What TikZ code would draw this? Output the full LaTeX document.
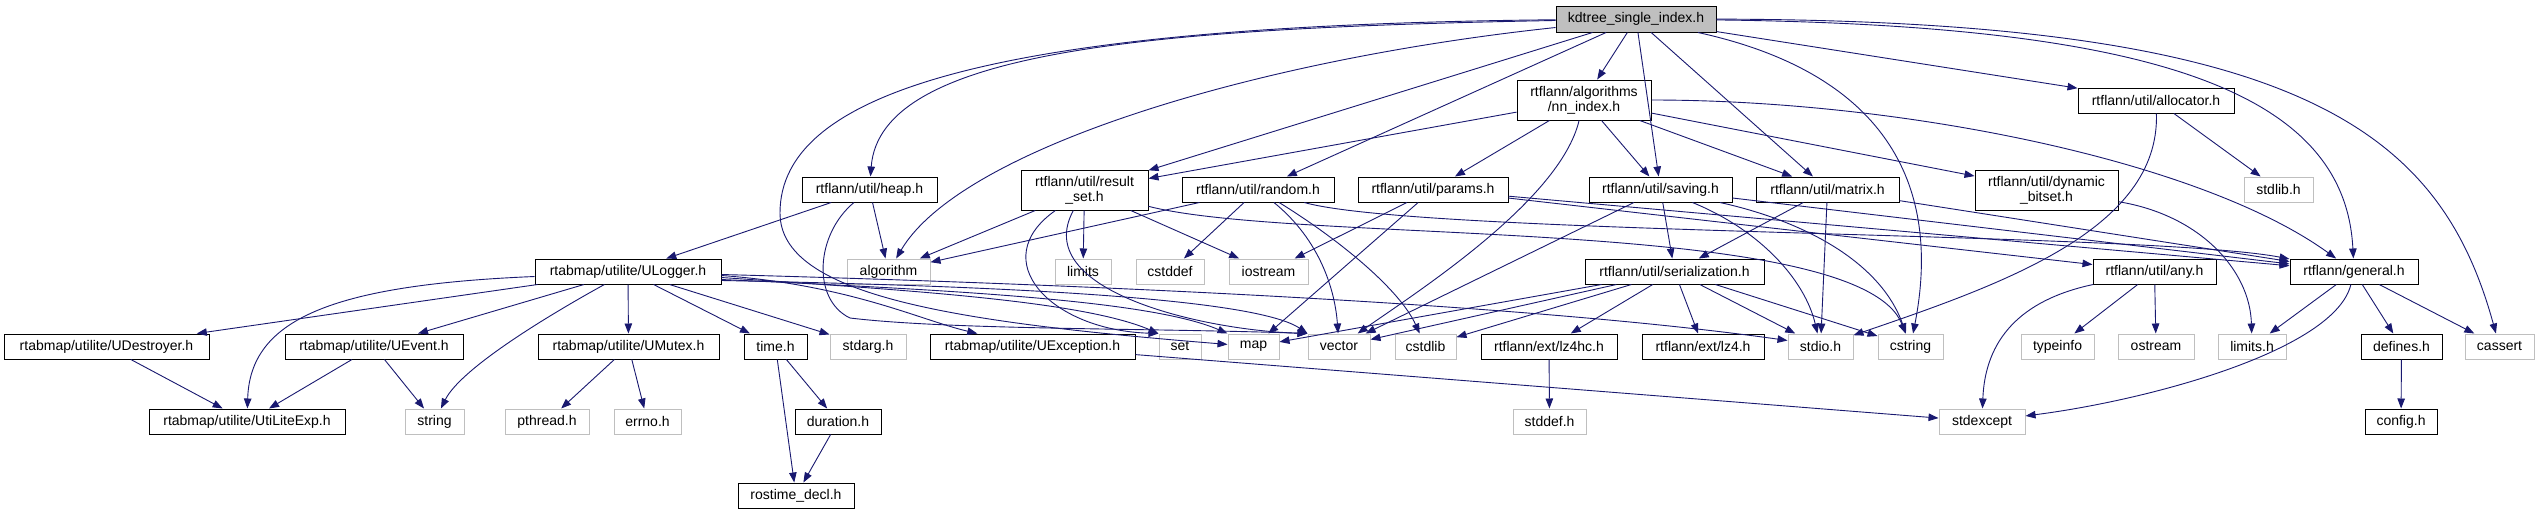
\documentclass[tikz,border=0pt]{standalone}
\usepackage{fontspec}
\setmainfont{Liberation Sans}
\usetikzlibrary{arrows.meta}
\definecolor{edgeblue}{HTML}{191970}
\definecolor{sysgray}{HTML}{BFBFBF}
\begin{document}
\begin{tikzpicture}[x=1pt,y=-1pt,
  box/.style={rectangle, line width=1pt, minimum height=25pt, inner sep=0pt, align=center, font=\fontsize{14}{15}\selectfont, fill=white},
  doc/.style={box, draw=black},
  sys/.style={box, draw=sysgray},
  mainbox/.style={box, draw=black, fill=sysgray},
  tall/.style={minimum height=40pt},
  wd/.style={minimum width=#1pt},
  edge/.style={draw=edgeblue, line width=0.9pt, -{Triangle[length=10pt,width=7.5pt]}}
]
\fill[white] (0,0) rectangle (2539,515);
\useasboundingbox (0,0) rectangle (2539,515);

% row A
\node[mainbox,wd=160,minimum height=26pt] (kd) at (1636,19) {kdtree\_single\_index.h};
% row B
\node[doc,wd=134,tall] (nn) at (1584,100) {rtflann/algorithms\\/nn\_index.h};
\node[doc,wd=156] (alloc) at (2156,100.5) {rtflann/util/allocator.h};
% row C
\node[doc,wd=135] (heap) at (869.5,189.5) {rtflann/util/heap.h};
\node[doc,wd=127,tall] (rs) at (1084.5,190) {rtflann/util/result\\\_set.h};
\node[doc,wd=152] (rand) at (1258,189.5) {rtflann/util/random.h};
\node[doc,wd=150] (par) at (1433,189.5) {rtflann/util/params.h};
\node[doc,wd=143] (sav) at (1660.5,189.5) {rtflann/util/saving.h};
\node[doc,wd=143] (mat) at (1827.5,189.5) {rtflann/util/matrix.h};
\node[doc,wd=143,tall] (db) at (2046.5,190) {rtflann/util/dynamic\\\_bitset.h};
\node[sys,wd=69] (stdlib) at (2278.5,189.5) {stdlib.h};
% row D
\node[doc,wd=186] (ulog) at (628,271.5) {rtabmap/utilite/ULogger.h};
\node[sys,wd=83] (algo) at (888.5,271.5) {algorithm};
\node[sys,wd=56] (limits) at (1083,271.5) {limits};
\node[sys,wd=68] (cstddef) at (1170,271.5) {cstddef};
\node[sys,wd=79] (iostr) at (1268.5,271.5) {iostream};
\node[doc,wd=179] (ser) at (1674.5,271.5) {rtflann/util/serialization.h};
\node[doc,wd=123] (any) at (2154.5,271.5) {rtflann/util/any.h};
\node[doc,wd=128] (gen) at (2354,271.5) {rtflann/general.h};
% row E
\node[doc,wd=205] (udes) at (106.5,346.5) {rtabmap/utilite/UDestroyer.h};
\node[doc,wd=178] (uev) at (374,346.5) {rtabmap/utilite/UEvent.h};
\node[doc,wd=181] (umut) at (628.5,346.5) {rtabmap/utilite/UMutex.h};
\node[doc,wd=63] (timeh) at (775.5,346.5) {time.h};
\node[sys,wd=76] (stdarg) at (868,346.5) {stdarg.h};
\node[doc,wd=205] (uexc) at (1032.5,346.5) {rtabmap/utilite/UException.h};
\node[sys,wd=42] (set) at (1180,346.5) {set};
\node[sys,wd=51] (map) at (1253.5,346.5) {map};
\node[sys,wd=62] (vec) at (1339,346.5) {vector};
\node[sys,wd=61] (cstdlib) at (1425.5,346.5) {cstdlib};
\node[doc,wd=136] (lzhc) at (1549,346.5) {rtflann/ext/lz4hc.h};
\node[doc,wd=122] (lz) at (1703,346.5) {rtflann/ext/lz4.h};
\node[sys,wd=65] (stdio) at (1820.5,346.5) {stdio.h};
\node[sys,wd=65] (cstr) at (1910.5,346.5) {cstring};
\node[sys,wd=73] (typeinfo) at (2057.5,346.5) {typeinfo};
\node[sys,wd=76] (ostr) at (2156,346.5) {ostream};
\node[sys,wd=68] (limh) at (2252,346.5) {limits.h};
\node[doc,wd=81] (defs) at (2401.5,346.5) {defines.h};
\node[sys,wd=69] (cass) at (2499.5,346.5) {cassert};
% row F
\node[doc,wd=196] (utex) at (247,421.5) {rtabmap/utilite/UtiLiteExp.h};
\node[sys,wd=59] (str) at (434.5,421.5) {string};
\node[sys,wd=84] (pthr) at (547,421.5) {pthread.h};
\node[sys,wd=67] (errn) at (647.5,421.5) {errno.h};
\node[doc,wd=86] (dur) at (838,421.5) {duration.h};
\node[sys,wd=73] (stddef) at (1549.5,421.5) {stddef.h};
\node[sys,wd=86] (stdexc) at (1982,421.5) {stdexcept};
\node[doc,wd=72] (conf) at (2401,421.5) {config.h};
% row G
\node[doc,wd=116] (ros) at (796,495.5) {rostime\_decl.h};

% kdtree edges
\draw[edge] (kd) .. controls (1000,25) and (780,90) .. (780,213) .. controls (780,295) and (950,322) .. (map);
\draw[edge] (kd) .. controls (1150,28) and (880,50) .. (heap);
\draw[edge] (kd) .. controls (1250,60) and (960,150) .. (algo);
\draw[edge] (kd) -- (rs);
\draw[edge] (kd) -- (rand);
\draw[edge] (kd) -- (nn);
\draw[edge] (kd) -- (sav);
\draw[edge] (kd) -- (mat);
\draw[edge] (kd) .. controls (1870,70) and (1945,170) .. (cstr);
\draw[edge] (kd) -- (alloc);
\draw[edge] (kd) .. controls (2150,25) and (2345,90) .. (gen);
\draw[edge] (kd) .. controls (2300,20) and (2440,130) .. (cass);
% nn_index edges
\draw[edge] (nn) -- (rs);
\draw[edge] (nn) -- (par);
\draw[edge] (nn) .. controls (1560,200) and (1420,290) .. (vec);
\draw[edge] (nn) -- (sav);
\draw[edge] (nn) -- (mat);
\draw[edge] (nn) -- (db);
\draw[edge] (nn) .. controls (1900,100) and (2200,160) .. (gen);
% allocator
\draw[edge] (alloc) -- (stdlib);
\draw[edge] (alloc) .. controls (2160,230) and (2000,285) .. (stdio);
% heap
\draw[edge] (heap) -- (ulog);
\draw[edge] (heap) -- (algo);
\draw[edge] (heap) .. controls (815,235) and (812,300) .. (850,318) .. controls (950,330) and (1150,328) .. (vec.north west);
% result_set
\draw[edge] (rs) -- (algo);
\draw[edge] (rs) -- (limits);
\draw[edge] (rs) -- (iostr);
\draw[edge] (rs) .. controls (985,260) and (1050,330) .. (set.north west);
\draw[edge] (rs) .. controls (1030,290) and (1200,330) .. (vec.north west);
\draw[edge] (rs) .. controls (1300,245) and (1860,215) .. (cstr);
% random
\draw[edge] (rand) -- (algo);
\draw[edge] (rand) -- (cstddef);
\draw[edge] (rand) .. controls (1320,240) and (1335,290) .. (vec);
\draw[edge] (rand) .. controls (1340,240) and (1400,290) .. (cstdlib);
\draw[edge] (rand) .. controls (1420,235) and (2150,232) .. (gen);
% params
\draw[edge] (par) -- (iostr);
\draw[edge] (par) -- (map);
\draw[edge] (par) -- (any);
\draw[edge] (par) -- (gen);
% saving
\draw[edge] (sav) -- (ser);
\draw[edge] (sav) -- (vec);
\draw[edge] (sav) .. controls (1760,230) and (1805,280) .. (stdio);
\draw[edge] (sav) .. controls (1800,220) and (1880,260) .. (cstr);
\draw[edge] (sav) -- (gen);
% matrix
\draw[edge] (mat) -- (ser);
\draw[edge] (mat) -- (stdio);
\draw[edge] (mat) -- (gen);
% dynamic_bitset
\draw[edge] (db) .. controls (2200,215) and (2250,270) .. (limh);
% serialization
\draw[edge] (ser) -- (map);
\draw[edge] (ser) -- (vec);
\draw[edge] (ser) -- (cstdlib);
\draw[edge] (ser) -- (lzhc);
\draw[edge] (ser) -- (lz);
\draw[edge] (ser) -- (stdio);
\draw[edge] (ser) -- (cstr);
% any
\draw[edge] (any) -- (typeinfo);
\draw[edge] (any) -- (ostr);
\draw[edge] (any) .. controls (2020,300) and (1985,340) .. (stdexc);
% general
\draw[edge] (gen) -- (limh);
\draw[edge] (gen) -- (defs);
\draw[edge] (gen) -- (cass);
\draw[edge] (gen) .. controls (2335,350) and (2150,400) .. (stdexc);
\draw[edge] (defs) -- (conf);
\draw[edge] (lzhc) -- (stddef);
% ULogger
\draw[edge] (ulog) -- (udes);
\draw[edge] ([yshift=-5pt]ulog.west) .. controls (330,285) and (250,320) .. (utex);
\draw[edge] (ulog) -- (uev);
\draw[edge] (ulog) .. controls (540,320) and (460,370) .. (str);
\draw[edge] (ulog) -- (umut);
\draw[edge] (ulog) -- (timeh);
\draw[edge] (ulog) -- (stdarg);
\draw[edge] ([yshift=-4pt]ulog.east) .. controls (850,285) and (920,320) .. (uexc);
\draw[edge] ([yshift=-6pt]ulog.east) .. controls (900,290) and (1080,300) .. (set.north west);
\draw[edge] ([yshift=-8pt]ulog.east) .. controls (950,290) and (1150,300) .. (map.north west);
\draw[edge] ([yshift=-9pt]ulog.east) .. controls (950,285) and (1250,295) .. (vec.north west);
\draw[edge] ([yshift=-3pt]ulog.east) .. controls (1000,282) and (1500,300) .. ([yshift=6pt]stdio.west);
% utilite others
\draw[edge] (udes) -- (utex);
\draw[edge] (uev) -- (utex);
\draw[edge] (uev) -- (str);
\draw[edge] (umut) -- (pthr);
\draw[edge] (umut) -- (errn);
\draw[edge] (timeh) -- (dur);
\draw[edge] (timeh) -- (ros);
\draw[edge] (dur) -- (ros);
\draw[edge] (uexc) -- (stdexc);
\end{tikzpicture}
\end{document}
